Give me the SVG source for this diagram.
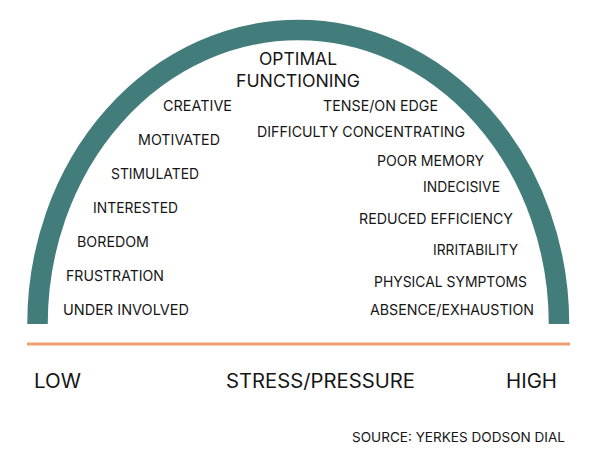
<svg xmlns="http://www.w3.org/2000/svg" width="595" height="467" viewBox="0 0 595 467">
<style>
text{font-family:Inter,"Liberation Sans",Arial,sans-serif;fill:#161616;font-weight:400;}
.lbl{font-size:14.5px;}
.title{font-size:17px;}
.axis{font-size:19.5px;}
.src{font-size:13.5px;}
</style>
<rect width="595" height="467" fill="#ffffff"/>
<g id="dial">
<path d="M 37.5 324 A 260.75 294 0 0 1 559 324" fill="none" stroke="#437d7b" stroke-width="20.5"/>
</g>
<g id="axis-line">
<line x1="27" y1="344" x2="570" y2="344" stroke="#ef9f6e" stroke-width="3"/>
</g>
<g id="optimal">
<text class="title" x="259" y="65" textLength="78" lengthAdjust="spacingAndGlyphs">OPTIMAL</text>
<text class="title" x="236" y="87" textLength="124" lengthAdjust="spacingAndGlyphs">FUNCTIONING</text>
</g>
<g id="left-labels">
<text class="lbl" x="163" y="111" textLength="69" lengthAdjust="spacingAndGlyphs">CREATIVE</text>
<text class="lbl" x="138" y="145" textLength="82" lengthAdjust="spacingAndGlyphs">MOTIVATED</text>
<text class="lbl" x="111" y="179" textLength="88" lengthAdjust="spacingAndGlyphs">STIMULATED</text>
<text class="lbl" x="93" y="213" textLength="85" lengthAdjust="spacingAndGlyphs">INTERESTED</text>
<text class="lbl" x="77" y="247" textLength="72" lengthAdjust="spacingAndGlyphs">BOREDOM</text>
<text class="lbl" x="66" y="281" textLength="98" lengthAdjust="spacingAndGlyphs">FRUSTRATION</text>
<text class="lbl" x="63" y="315" textLength="126" lengthAdjust="spacingAndGlyphs">UNDER INVOLVED</text>
</g>
<g id="right-labels">
<text class="lbl" x="323" y="111" textLength="115" lengthAdjust="spacingAndGlyphs">TENSE/ON EDGE</text>
<text class="lbl" x="257" y="137" textLength="208" lengthAdjust="spacingAndGlyphs">DIFFICULTY CONCENTRATING</text>
<text class="lbl" x="377" y="166" textLength="107" lengthAdjust="spacingAndGlyphs">POOR MEMORY</text>
<text class="lbl" x="423" y="192" textLength="77" lengthAdjust="spacingAndGlyphs">INDECISIVE</text>
<text class="lbl" x="359" y="224" textLength="154" lengthAdjust="spacingAndGlyphs">REDUCED EFFICIENCY</text>
<text class="lbl" x="433" y="255" textLength="85" lengthAdjust="spacingAndGlyphs">IRRITABILITY</text>
<text class="lbl" x="374" y="287" textLength="153" lengthAdjust="spacingAndGlyphs">PHYSICAL SYMPTOMS</text>
<text class="lbl" x="370" y="315" textLength="164" lengthAdjust="spacingAndGlyphs">ABSENCE/EXHAUSTION</text>
</g>
<g id="axis-labels">
<text class="axis" x="34" y="388" textLength="47" lengthAdjust="spacingAndGlyphs">LOW</text>
<text class="axis" x="226" y="388" textLength="189" lengthAdjust="spacingAndGlyphs">STRESS/PRESSURE</text>
<text class="axis" x="506" y="388" textLength="51" lengthAdjust="spacingAndGlyphs">HIGH</text>
</g>
<g id="source">
<text class="src" x="352" y="442" textLength="213" lengthAdjust="spacingAndGlyphs">SOURCE: YERKES DODSON DIAL</text>
</g>
</svg>
